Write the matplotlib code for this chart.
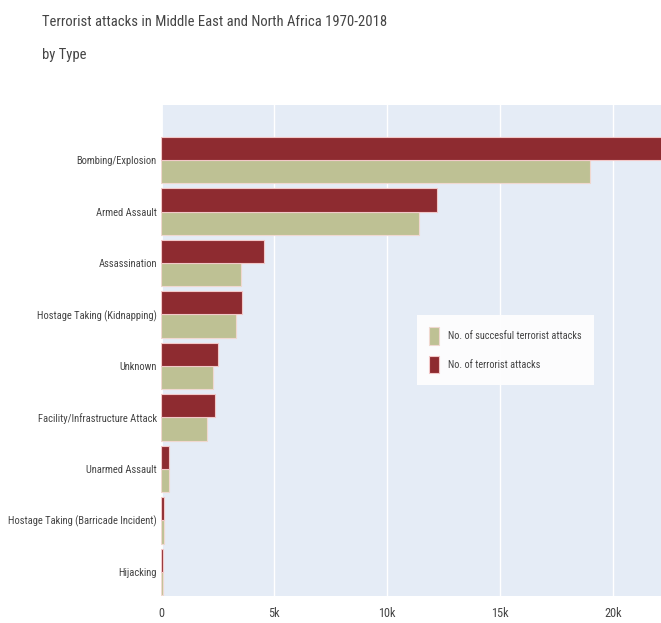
import matplotlib
matplotlib.use("Agg")
import matplotlib.pyplot as plt
import numpy as np

categories = ["Bombing/Explosion", "Armed Assault", "Assassination",
              "Hostage Taking (Kidnapping)", "Unknown",
              "Facility/Infrastructure Attack", "Unarmed Assault",
              "Hostage Taking (Barricade Incident)", "Hijacking"]
total_attacks = [23500, 12200, 4560, 3600, 2520, 2370, 350, 130, 80]
successful_attacks = [19000, 11400, 3540, 3300, 2300, 2040, 340, 120, 70]
xticks = [0, 5000, 10000, 15000, 20000]
xtick_labels = ["0", "5k", "10k", "15k", "20k"]

FONT = ["Roboto Condensed", "Open Sans", "DejaVu Sans"]
plt.rcParams["font.family"] = FONT
TXT = "#444444"
RED = "#8E2B30"
OLIVE = "#BEC194"
BG = "#E5ECF6"

fig = plt.figure(figsize=(6.61, 6.23), dpi=100)
ax = fig.add_axes([161/661, 1-596/623, 1-161/661, (596-105)/623])
ax.set_facecolor(BG)

n = len(categories)
pos = np.arange(n)[::-1]
h = 0.45
ax.barh(pos - h/2, successful_attacks, height=h, color=OLIVE,
        edgecolor="#F0D8D0", linewidth=0.8, label="No. of succesful terrorist attacks", zorder=3)
ax.barh(pos + h/2, total_attacks, height=h, color=RED,
        edgecolor="#F2C8C8", linewidth=0.8, label="No. of terrorist attacks", zorder=3)

ax.set_xlim(0, 22124)
ax.set_ylim(-0.47, 9.07)
ax.set_xticks(xticks)
ax.set_xticklabels(xtick_labels)
ax.set_yticks(pos)
ax.set_yticklabels(categories)
ax.tick_params(axis="both", length=0, colors=TXT)
ax.tick_params(axis="x", pad=8, labelsize=8.8)
ax.tick_params(axis="y", pad=3, labelsize=7.6)
ax.grid(axis="x", color="white", linewidth=1, zorder=1)
ax.axvline(0, color="white", linewidth=2, zorder=2)
for s in ax.spines.values():
    s.set_visible(False)

leg = ax.legend(loc="upper left", bbox_to_anchor=((417-161)/500, 1-(315-105)/491),
                borderaxespad=0, frameon=True, fontsize=7.4,
                handlelength=0.9, handleheight=2.2,
                borderpad=1.2, labelspacing=1.1, handletextpad=0.9)
leg.get_frame().set_facecolor("#FDFDFE")
leg.get_frame().set_alpha(0.97)
leg.get_frame().set_edgecolor("none")
leg.get_frame().set_boxstyle("square", pad=0)
for t in leg.get_texts():
    t.set_color(TXT)

fig.text(42/661, 1-22/623, "Terrorist attacks in Middle East and North Africa 1970-2018",
         fontsize=10.5, color=TXT, va="center", ha="left")
fig.text(42/661, 1-55/623, "by Type", fontsize=10.5, color=TXT, va="center", ha="left")

fig.savefig("out.png", dpi=100)
